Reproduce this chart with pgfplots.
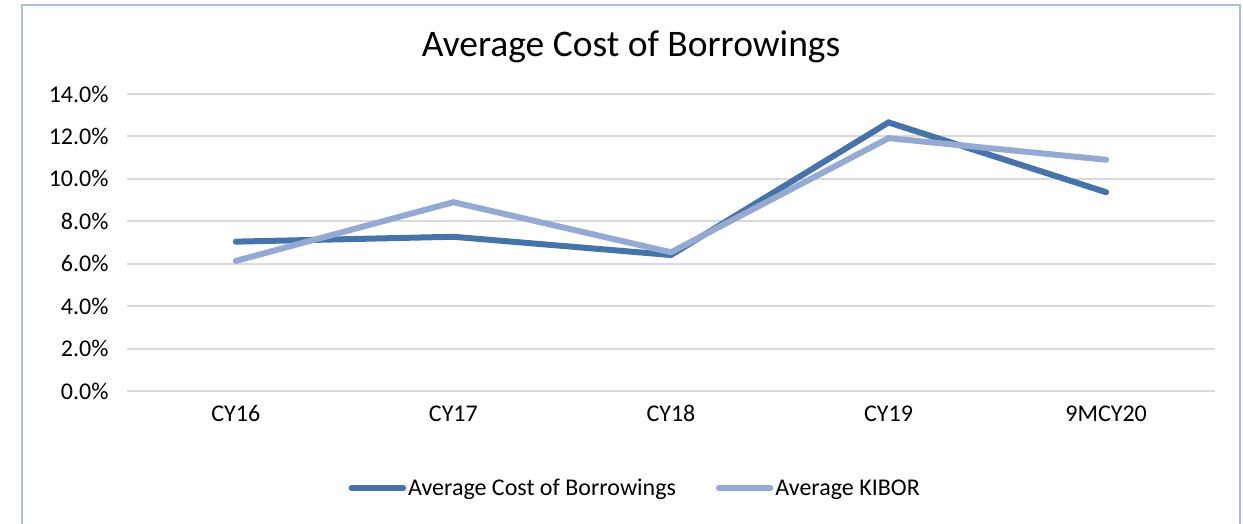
\documentclass[border=0pt]{standalone}
\usepackage{pgfplots}
\pgfplotsset{compat=1.18}
\usepackage{fontspec}
\setmainfont{Carlito}
\definecolor{darkblue}{HTML}{4674AA}
\definecolor{lightblue}{HTML}{95AAD3}
\definecolor{framecol}{HTML}{A7BFE1}
\definecolor{gridcol}{HTML}{D9D9D9}
\begin{document}
\begin{tikzpicture}[x=1pt,y=1pt]
\useasboundingbox (0,0) rectangle (1243,523);
\begin{scope}
\clip (0,0) rectangle (1243,523);
\draw[framecol, line width=2.5pt] (22,-10) rectangle (1240,518);
\end{scope}
\node[font=\fontsize{37.5}{44}\selectfont, anchor=center] at (631,476) {Average Cost of Borrowings};
\begin{axis}[
  at={(127pt,132pt)}, anchor=south west,
  scale only axis, width=1088pt, height=297pt,
  xmin=-0.5, xmax=4.5, ymin=0, ymax=14,
  xtick={0,1,2,3,4},
  xticklabels={CY16,CY17,CY18,CY19,9MCY20},
  ytick={0,2,4,6,8,10,12,14},
  yticklabel={\pgfmathprintnumber[fixed,fixed zerofill,precision=1]{\tick}\%},
  /pgf/number format/assume math mode=true,
  ticklabel style={font=\fontsize{24}{28}\selectfont},
  xticklabel style={yshift=-11pt},
  yticklabel style={xshift=-15pt},
  axis line style={draw=none},
  major tick length=0pt,
  ymajorgrids, major grid style={gridcol, line width=2pt},
  legend style={draw=none, at={(0.4671,-0.3266)}, anchor=center, legend columns=2,
    font=\fontsize{24}{28}\selectfont,
    /tikz/every even column/.append style={column sep=38pt},
    inner sep=0pt},
  legend cell align=left,
  legend image code/.code={\draw[#1, line width=5.5pt, line cap=round] (0pt,0pt) -- (52pt,0pt);},
]
\addplot[darkblue, line width=6pt, line cap=round, line join=miter, mark=none] coordinates {
  (0,7.04) (1,7.27) (2,6.41) (3,12.66) (4,9.37)};
\addlegendentry{Average Cost of Borrowings}
\addplot[lightblue, line width=6pt, line cap=round, line join=miter, mark=none] coordinates {
  (0,6.13) (1,8.90) (2,6.54) (3,11.92) (4,10.90)};
\addlegendentry{Average KIBOR}
\end{axis}
\end{tikzpicture}
\end{document}
